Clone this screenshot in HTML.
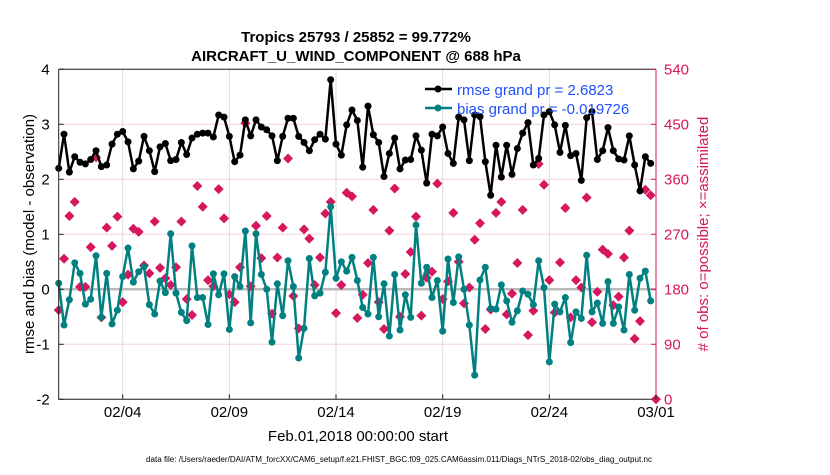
<!DOCTYPE html>
<html><head><meta charset="utf-8"><style>
body{margin:0;background:#fff;}
svg text{font-family:"Liberation Sans",sans-serif;}
</style></head><body>
<svg id="chart" width="830" height="470" xmlns="http://www.w3.org/2000/svg">
<rect width="830" height="470" fill="#fff"/>
<text x="356" y="42" text-anchor="middle" font-size="15" font-weight="bold">Tropics 25793 / 25852 = 99.772%</text>
<text x="356" y="61" text-anchor="middle" font-size="15" font-weight="bold">AIRCRAFT_U_WIND_COMPONENT @ 688 hPa</text>
<g id="grid"></g>
<g id="marks"></g>
<g id="axes"></g>
<g>
<line x1="425" y1="89" x2="452" y2="89" stroke="#000" stroke-width="2.5"/>
<circle cx="438" cy="89" r="3.5" fill="#000"/>
<text x="457" y="95" font-size="15" fill="#1f4fff">rmse grand pr = 2.6823</text>
<line x1="425" y1="108" x2="452" y2="108" stroke="#008080" stroke-width="2.5"/>
<circle cx="438" cy="108" r="3.5" fill="#008080"/>
<text x="457" y="114" font-size="15" fill="#1f4fff">bias grand pr = -0.019726</text>
</g>
<text transform="translate(34,234) rotate(-90)" text-anchor="middle" font-size="15">rmse and bias (model - observation)</text>
<text transform="translate(708,234) rotate(-90)" text-anchor="middle" font-size="15" fill="#d6165d"># of obs: o=possible; ×=assimilated</text>
<text x="358" y="441" text-anchor="middle" font-size="15">Feb.01,2018 00:00:00 start</text>
<text x="399" y="462" text-anchor="middle" font-size="8" textLength="506" lengthAdjust="spacingAndGlyphs">data file: /Users/raeder/DAI/ATM_forcXX/CAM6_setup/f.e21.FHIST_BGC.f09_025.CAM6assim.011/Diags_NTrS_2018-02/obs_diag_output.nc</text>
</svg>
<script>
const rmse=[2.20,2.82,2.13,2.41,2.31,2.28,2.36,2.52,2.23,2.26,2.64,2.82,2.87,2.68,2.19,2.33,2.78,2.52,2.14,2.59,2.65,2.34,2.36,2.67,2.45,2.75,2.82,2.84,2.84,2.77,3.17,3.13,2.78,2.32,2.44,3.08,2.79,3.08,2.95,2.90,2.79,2.34,2.78,3.11,3.11,2.78,2.67,2.52,2.72,2.82,2.73,3.81,2.64,2.44,2.99,3.26,3.07,2.22,3.33,2.81,2.67,2.05,2.47,2.75,2.19,2.35,2.36,2.79,2.53,1.93,2.82,2.79,2.95,2.47,2.29,3.13,3.08,2.34,3.17,3.14,2.32,1.71,2.62,2.04,2.62,2.09,2.56,2.84,3.03,2.26,2.38,3.17,3.23,2.99,2.49,2.98,2.43,2.47,1.98,3.12,3.23,2.36,2.52,2.94,2.52,2.37,2.35,2.79,2.26,1.79,2.41,2.29];
const bias=[0.11,-0.65,-0.19,0.48,0.29,-0.27,-0.18,0.61,-0.51,0.29,-0.63,-0.38,0.23,0.75,0.13,0.32,0.41,-0.28,-0.45,0.15,-0.06,1.01,-0.07,-0.42,-0.57,0.79,-0.15,-0.15,-0.64,0.28,-0.10,0.28,-0.73,0.23,0.05,1.06,-0.61,1.01,0.27,0.0,-0.96,0.10,-0.48,0.52,0.05,-1.25,-0.71,0.56,-0.12,-0.07,0.31,1.50,0.20,0.50,0.33,0.58,0.16,-0.33,-0.45,0.58,-0.50,0.10,-0.85,0.27,-0.74,-0.10,-0.51,1.17,0.11,0.40,-0.15,0.16,-0.76,0.55,-0.24,0.59,0.0,-0.65,-1.56,0.17,0.40,-0.35,-0.36,0.08,-0.21,-0.60,-0.39,-0.03,-0.09,-0.28,0.52,0.03,-1.32,-0.27,-0.41,-0.15,-0.97,-0.41,-0.53,0.62,-0.41,-0.25,-0.62,0.14,-0.62,-0.32,-0.74,0.27,-0.38,0.20,0.33,-0.21];
const nobs=[146,230,300,323,184,184,249,396,134,281,251,299,159,204,279,274,219,206,291,215,198,187,216,291,164,138,349,315,195,185,344,296,172,159,216,452,185,284,231,300,140,232,281,394,169,116,278,263,187,232,304,323,141,187,338,332,133,171,223,310,159,115,276,345,135,205,241,299,137,199,209,353,164,193,305,225,157,183,261,288,115,147,305,323,139,173,223,310,105,145,385,351,195,142,224,313,134,195,183,330,126,176,245,238,154,168,232,276,99,128,343,334,0];
const xTickLabels=["02/04","02/09","02/14","02/19","02/24","03/01"];
const xTickDays=[3,8,13,18,23,28];
const yTicksLeft=[-2,-1,0,1,2,3,4];
const yTicksRight=[0,90,180,270,360,450,540];

const X0=58.7,X1=656,Y0=399.3,Y1=69.3;
const xs=d=>X0+(X1-X0)*d/28;
const xi=i=>xs(i*0.25);
const yl=v=>Y0-(v+2)/6*(Y0-Y1);
const yr=v=>Y0-v/540*(Y0-Y1);
const NS="http://www.w3.org/2000/svg";
function mk(parent,tag,attrs){const e=document.createElementNS(NS,tag);for(const k in attrs)e.setAttribute(k,attrs[k]);document.getElementById(parent).appendChild(e);return e;}

mk('grid','rect',{x:X0,y:Y1,width:X1-X0,height:Y0-Y1,fill:'#fff'});
xTickDays.forEach(d=>{const l=mk('grid','line',{x1:xs(d),x2:xs(d),y1:Y1,y2:Y0,stroke:'#ddd','stroke-width':1});

});
yTicksLeft.forEach(v=>{const l=mk('grid','line',{x1:X0,x2:X1,y1:yl(v),y2:yl(v),stroke:'#f3d3df','stroke-width':1});

});
const z=mk('grid','line',{x1:X0,x2:X1,y1:yl(0),y2:yl(0),stroke:'#bbb','stroke-width':2.5});



nobs.forEach((v,i)=>{const cx=xi(i),cy=yr(v);
const p=mk('marks','path',{d:`M${cx},${cy-5}L${cx+5},${cy}L${cx},${cy+5}L${cx-5},${cy}Z`,fill:'#d6165d'});

});

function series(arr,color,name){
const pl=mk('marks','polyline',{points:arr.map((v,i)=>xi(i)+','+yl(v)).join(' '),fill:'none',stroke:color,'stroke-width':2.5,'stroke-linejoin':'round'});


arr.forEach((v,i)=>{const c=mk('marks','circle',{cx:xi(i),cy:yl(v),r:3.5,fill:color});

});}
series(bias,'#008080','bias');
series(rmse,'#000','rmse');

const bx=mk('axes','path',{d:`M${X0},${Y1}L${X1},${Y1}M${X0},${Y1}L${X0},${Y0}L${X1},${Y0}`,stroke:'#222',fill:'none','stroke-width':1});


const ra=mk('axes','line',{x1:X1,x2:X1,y1:Y1,y2:Y0,stroke:'#d6165d','stroke-width':1});


yTicksLeft.forEach(v=>{mk('axes','line',{x1:X0,x2:X0+5,y1:yl(v),y2:yl(v),stroke:'#222'});
const t=mk('axes','text',{x:X0-9,y:yl(v)+5,'text-anchor':'end','font-size':15});t.textContent=v;

});
yTicksRight.forEach(v=>{mk('axes','line',{x1:X1-5,x2:X1,y1:yr(v),y2:yr(v),stroke:'#d6165d'});
const t=mk('axes','text',{x:X1+8,y:yr(v)+5,'font-size':15,fill:'#d6165d'});t.textContent=v;

});
xTickDays.forEach((d,k)=>{mk('axes','line',{x1:xs(d),x2:xs(d),y1:Y0,y2:Y0-5,stroke:'#222'});
const t=mk('axes','text',{x:xs(d),y:417,'text-anchor':'middle','font-size':15});t.textContent=xTickLabels[k];

});
</script>
</body></html>
